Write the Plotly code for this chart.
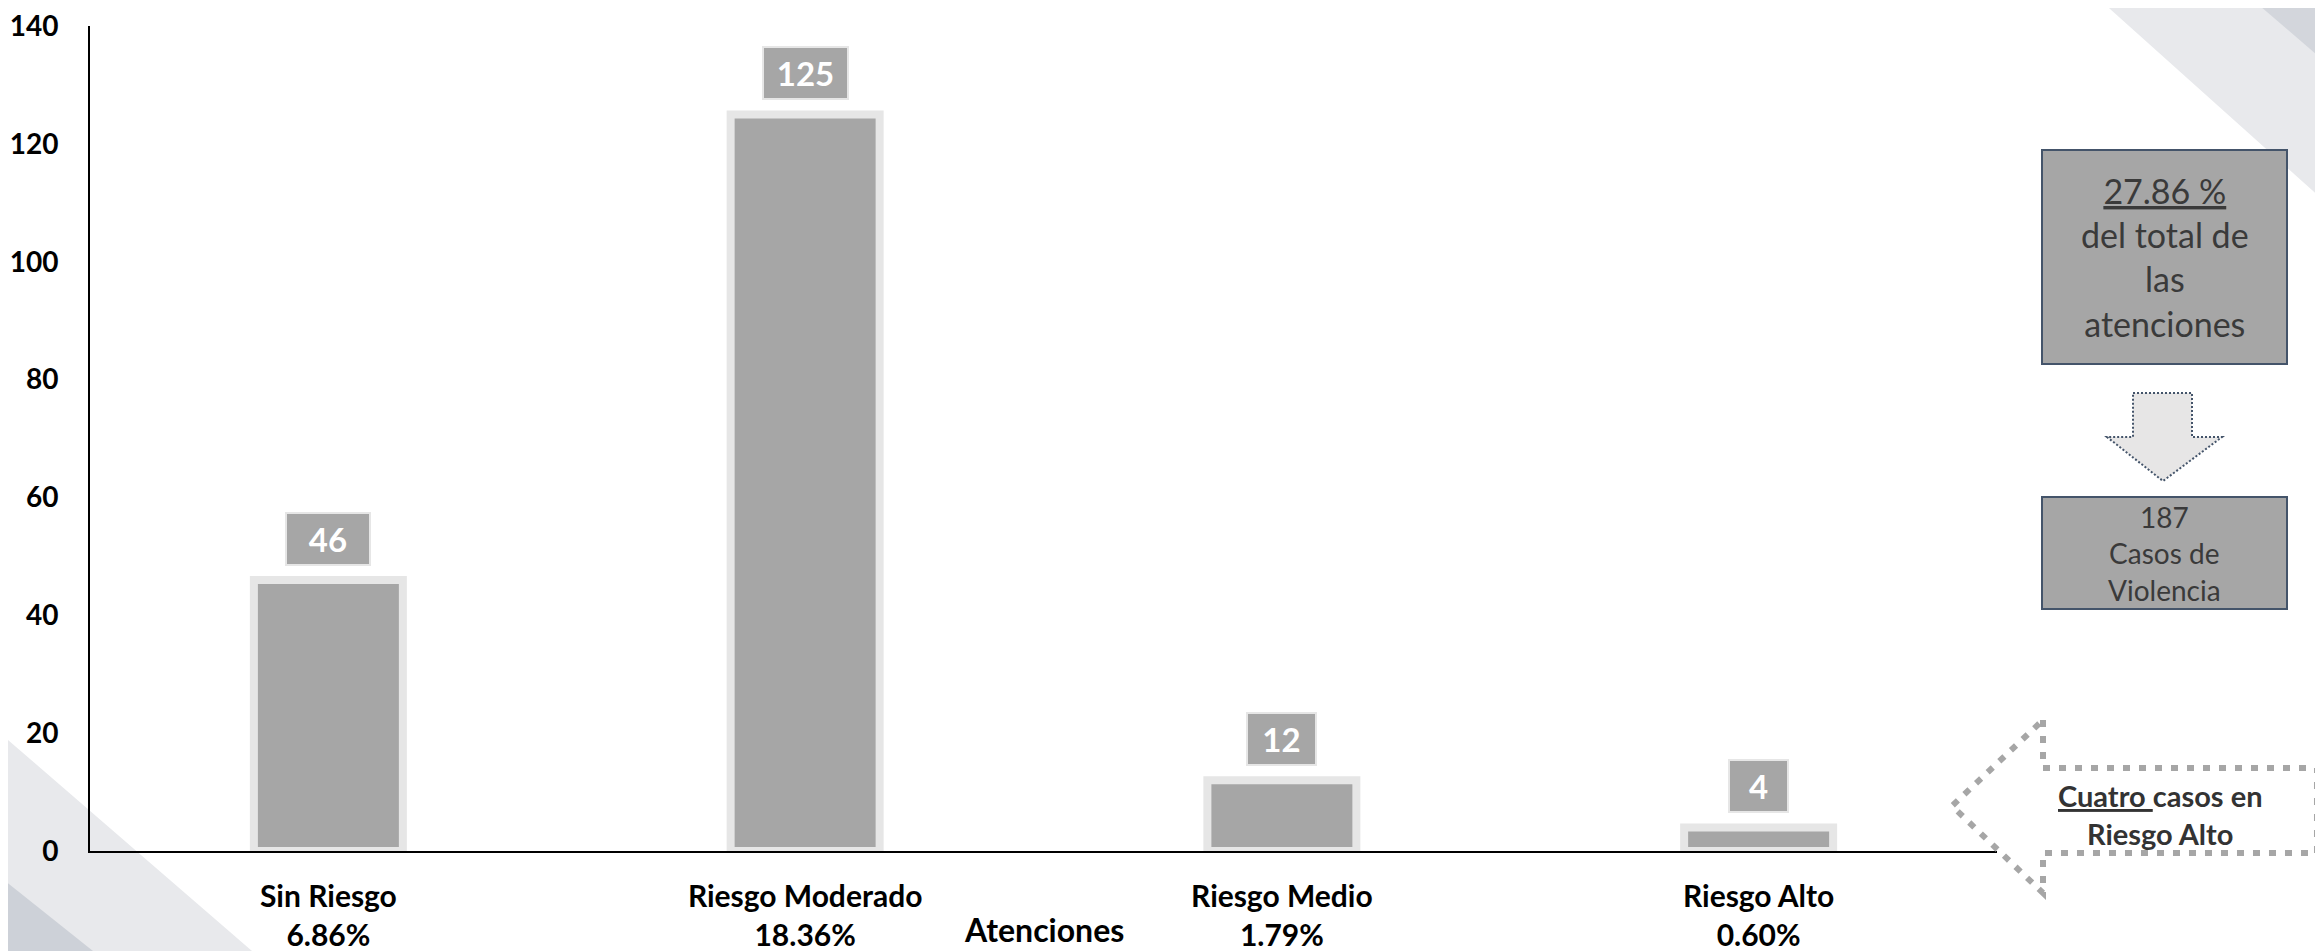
import plotly.graph_objects as go

# ---- data ----
categories = ["Sin Riesgo", "Riesgo Moderado", "Riesgo Medio", "Riesgo Alto"]
percentages = ["6.86%", "18.36%", "1.79%", "0.60%"]
values = [46, 125, 12, 4]
y_ticks = [0, 20, 40, 60, 80, 100, 120, 140]
axis_title = "Atenciones"
box1_lines = ["<u>27.86 %</u>", "del total de", "las", "atenciones"]
box2_lines = ["187", "Casos de", "Violencia"]
arrow_lines = ["<u>Cuatro </u>casos en", "Riesgo Alto"]

# ---- geometry (page pixels; the page body has an 8px margin) ----
OFF = 8
PAGE_W, PAGE_H = 2323, 951
W, H = PAGE_W - OFF, PAGE_H - OFF
PL, PR, PT, PB = 90, 1997, 26, 851          # plot area bounds on the page
ML, MT = PL - OFF, PT - OFF
MR, MB = W - (PR - OFF), H - (PB - OFF)
PW, PH = PR - PL, PB - PT


def px(x):
    return (x - PL) / PW


def py(y):
    return (PB - y) / PH


def path(points):
    return "M " + " L ".join(f"{px(x):.5f},{py(y):.5f}" for x, y in points) + " Z"


FONT = "Lato, 'Open Sans', sans-serif"
BAR = "#a6a6a6"
BAR_EDGE = "#e6e6e6"

fig = go.Figure()
fig.add_trace(go.Bar(
    x=categories, y=values,
    width=0.3125,
    marker=dict(color=BAR, line=dict(color=BAR_EDGE, width=8)),
    hoverinfo="x+y",
))

shapes = []
# background decorations
shapes.append(dict(type="path", xref="paper", yref="paper", layer="below",
                   path=path([(0, 733), (252, 951), (0, 951)]),
                   fillcolor="#e8e9ec", line=dict(width=0)))
shapes.append(dict(type="path", xref="paper", yref="paper", layer="below",
                   path=path([(0, 877), (93, 951), (0, 951)]),
                   fillcolor="#cdd1d8", line=dict(width=0)))
shapes.append(dict(type="path", xref="paper", yref="paper", layer="below",
                   path=path([(2100, 0), (2323, 0), (2323, 200)]),
                   fillcolor="#e8e9ec", line=dict(width=0)))
shapes.append(dict(type="path", xref="paper", yref="paper", layer="below",
                   path=path([(2253, 0), (2323, 0), (2323, 60)]),
                   fillcolor="#d3d6dc", line=dict(width=0)))
# right side boxes
shapes.append(dict(type="rect", xref="paper", yref="paper",
                   x0=px(2042), x1=px(2287), y0=py(364), y1=py(150),
                   fillcolor=BAR, line=dict(color="#44546a", width=2)))
shapes.append(dict(type="rect", xref="paper", yref="paper",
                   x0=px(2042), x1=px(2287), y0=py(609), y1=py(497),
                   fillcolor=BAR, line=dict(color="#44546a", width=2)))
# down arrow
shapes.append(dict(type="path", xref="paper", yref="paper",
                   path=path([(2133, 393), (2192, 393), (2192, 437), (2222, 437),
                              (2163, 481), (2107, 437), (2133, 437)]),
                   fillcolor="#e7e6e6",
                   line=dict(color="#44546a", width=2, dash="2px,2px")))
# left arrow (dotted outline)
shapes.append(dict(type="path", xref="paper", yref="paper",
                   path=path([(2043, 720), (2043, 768), (2317, 768), (2317, 853),
                              (2043, 853), (2043, 893), (1952, 806)]),
                   fillcolor="rgba(0,0,0,0)",
                   line=dict(color="#a6a6a6", width=6, dash="7px,9px")))

annotations = []
label_box_w = {"46": 86, "125": 87, "12": 71, "4": 61}
for c, v in zip(categories, values):
    t = str(v)
    annotations.append(dict(
        x=c, y=v, xref="x", yref="y", yanchor="bottom", xanchor="center", yshift=14,
        text=f"<b>{t}</b>", showarrow=False,
        font=dict(family=FONT, size=33, color="white"),
        bgcolor=BAR, bordercolor=BAR_EDGE, borderwidth=2, borderpad=0,
        width=label_box_w.get(t, 80) - 4, height=50,
    ))

annotations.append(dict(
    x=0.5, y=py(929), xref="paper", yref="paper", showarrow=False,
    text=f"<b>{axis_title}</b>", font=dict(family=FONT, size=32, color="black"),
    xanchor="center", yanchor="middle"))
annotations.append(dict(
    x=px(2164.5), y=py(257), xref="paper", yref="paper", showarrow=False,
    text="<br>".join(box1_lines), font=dict(family=FONT, size=34, color="#3a3a3a"),
    xanchor="center", yanchor="middle"))
annotations.append(dict(
    x=px(2164.5), y=py(553), xref="paper", yref="paper", showarrow=False,
    text="<br>".join(box2_lines), font=dict(family=FONT, size=28, color="#3a3a3a"),
    xanchor="center", yanchor="middle"))
annotations.append(dict(
    x=px(2160), y=py(814), xref="paper", yref="paper", showarrow=False,
    text="<b>" + "<br>".join(arrow_lines) + "</b>",
    font=dict(family=FONT, size=29, color="#333333"),
    xanchor="center", yanchor="middle"))

fig.update_layout(
    width=W, height=H,
    margin=dict(l=ML, r=MR, t=MT, b=MB, pad=0, autoexpand=False),
    paper_bgcolor="white", plot_bgcolor="rgba(0,0,0,0)",
    showlegend=False,
    shapes=shapes, annotations=annotations,
    font=dict(family=FONT),
    xaxis=dict(
        type="category", automargin=False,
        tickvals=categories,
        ticktext=[f"<b>{c}<br>{p}</b>" for c, p in zip(categories, percentages)],
        tickfont=dict(family=FONT, size=30, color="black", weight="bold"),
        showline=True, linecolor="black", linewidth=2,
        showgrid=False, zeroline=False,
        ticks="outside", ticklen=18, tickcolor="rgba(0,0,0,0)",
        ticklabeloverflow="allow",
    ),
    yaxis=dict(
        range=[0, 140], tickvals=y_ticks, automargin=False,
        tickfont=dict(family=FONT, size=28, color="black", weight="bold"),
        showline=True, linecolor="black", linewidth=2,
        showgrid=False, zeroline=False,
        ticks="outside", ticklen=24, tickcolor="rgba(0,0,0,0)",
        ticklabeloverflow="allow",
    ),
)

fig.write_html("out.html")
